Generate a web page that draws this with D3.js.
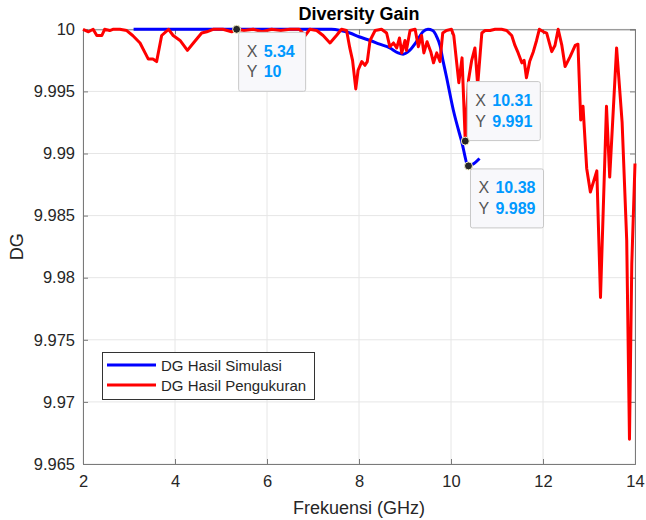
<!DOCTYPE html>
<html>
<head>
<meta charset="utf-8">
<script src="https://cdn.jsdelivr.net/npm/d3@7"></script>
<style>
  html, body { margin: 0; padding: 0; background: #fff; }
  svg { display: block; font-family: "Liberation Sans", Arial, Helvetica, sans-serif; }
</style>
</head>
<body>
<svg id="chart" width="646" height="520"></svg>
<script>
// ---- data ----
const simFreq = [3.10, 4.00, 5.00, 5.34, 6.00, 7.00, 7.40, 7.60, 7.80, 8.00, 8.24, 8.45, 8.67, 8.85, 8.96, 9.10, 9.25, 9.39, 9.50, 9.60, 9.69, 9.76, 9.83, 9.90, 10.05, 10.23, 10.38, 10.50, 10.62];
const simDG   = [10.0, 10.0, 10.0, 10.0, 10.0, 10.0, 10.0, 9.9999, 9.9997, 9.9994, 9.9991, 9.9988, 9.9985, 9.9981, 9.9980, 9.9983, 9.9990, 9.9998, 10.0, 9.9999, 9.9994, 9.9987, 9.9974, 9.9962, 9.9935, 9.9910, 9.9890, 9.9892, 9.9896];

const measFreq = [2.00, 2.12, 2.22, 2.30, 2.41, 2.47, 2.58, 2.65, 2.80, 2.95, 3.08, 3.24, 3.35, 3.42, 3.52, 3.60, 3.71, 3.86, 3.96, 4.11,
  4.27, 4.40, 4.58, 4.69, 4.83, 5.04, 5.23, 5.34, 5.50, 5.70, 5.90, 6.10, 6.30, 6.50, 6.70, 6.83, 6.93, 7.08, 7.22, 7.37,
  7.51, 7.62, 7.73, 7.80, 7.86, 7.93, 7.98, 8.06, 8.13, 8.18, 8.24, 8.35, 8.49, 8.60, 8.67, 8.75, 8.82, 8.88, 8.93, 9.00,
  9.03, 9.11, 9.22, 9.29, 9.36, 9.41, 9.48, 9.56, 9.62, 9.69, 9.76, 9.82, 9.90, 10.01, 10.06, 10.17, 10.24, 10.31, 10.38, 10.45,
  10.52, 10.58, 10.67, 10.74, 10.85, 10.96, 11.10, 11.21, 11.32, 11.39, 11.46, 11.54, 11.59, 11.64, 11.71, 11.79, 11.86, 11.92, 12.01, 12.08,
  12.19, 12.26, 12.33, 12.41, 12.48, 12.59, 12.70, 12.76, 12.82, 12.87, 12.95, 13.03, 13.17, 13.25, 13.38, 13.45, 13.60, 13.72, 13.82, 13.88,
  13.93, 14.00];
const measDG = [10.0000, 9.9998, 10.0000, 9.9995, 9.9995, 10.0000, 9.9999, 10.0000, 10.0000, 9.9999, 9.9995, 9.9989, 9.9981, 9.9976, 9.9976, 9.9974, 9.9995, 10.0000, 9.9995, 9.9991,
  9.9983, 9.9989, 9.9997, 9.9998, 10.0000, 10.0000, 9.9998, 10.0000, 9.9999, 10.0000, 9.9998, 10.0000, 9.9999, 10.0000, 10.0000, 9.9995, 10.0000, 9.9999, 9.9995, 9.9989,
  9.9995, 10.0000, 9.9999, 9.9985, 9.9975, 9.9952, 9.9967, 9.9974, 9.9971, 9.9974, 9.9991, 9.9999, 10.0000, 9.9997, 9.9986, 9.9989, 9.9985, 9.9993, 9.9981, 9.9991,
  9.9983, 9.9999, 10.0000, 9.9986, 9.9995, 9.9981, 9.9990, 9.9982, 9.9973, 9.9981, 9.9974, 9.9997, 9.9999, 10.0000, 9.9995, 9.9957, 9.9977, 9.9910, 9.9959, 9.9975,
  9.9985, 9.9955, 9.9997, 9.9999, 9.9999, 10.0000, 10.0000, 9.9999, 9.9995, 9.9987, 9.9981, 9.9973, 9.9975, 9.9961, 9.9974, 9.9982, 9.9991, 10.0000, 9.9998, 9.9997,
  9.9982, 9.9987, 10.0000, 9.9987, 9.9970, 9.9978, 9.9987, 9.9988, 9.9927, 9.9938, 9.9888, 9.9869, 9.9886, 9.9784, 9.9938, 9.9881, 9.9985, 9.9925, 9.9830, 9.9670,
  9.9811, 9.9892];

const xTicks = [2, 4, 6, 8, 10, 12, 14];
const yTicks = [9.965, 9.97, 9.975, 9.98, 9.985, 9.99, 9.995, 10];
const yTickLabels = ["9.965", "9.97", "9.975", "9.98", "9.985", "9.99", "9.995", "10"];

const seriesNames = ["DG Hasil Simulasi", "DG Hasil Pengukuran"];
const seriesColors = ["#0000ff", "#ff0000"];

const tipX = [5.34, 10.31, 10.38];
const tipY = [10, 9.991, 9.989];
const tipXLabel = ["5.34", "10.31", "10.38"];
const tipYLabel = ["10", "9.991", "9.989"];
const tipPlace = ["below", "above", "below"];

// ---- layout ----
const svg = d3.select("#chart");
const L = 83, R = 635, T = 29.3, B = 464;

const x = d3.scaleLinear().domain([2, 14]).range([L, R]);
const y = d3.scaleLinear().domain([9.965, 10]).range([B, T]);

const textColor = "#262626";
const axisColor = "#7a7a7a";

// grid
const grid = svg.append("g");
grid.selectAll(".gx").data(xTicks).enter().append("line")
  .attr("x1", d => x(d)).attr("x2", d => x(d)).attr("y1", T).attr("y2", B)
  .attr("stroke", "#e6e6e6").attr("stroke-width", 1);
grid.selectAll(".gy").data(yTicks).enter().append("line")
  .attr("y1", d => y(d)).attr("y2", d => y(d)).attr("x1", L).attr("x2", R)
  .attr("stroke", "#e6e6e6").attr("stroke-width", 1);

// axes
const xAxis = d3.axisBottom(x).tickValues(xTicks).tickSize(-5).tickPadding(11).tickFormat(d3.format("d"));
const yAxis = d3.axisLeft(y).tickValues(yTicks).tickSize(-5).tickPadding(8).tickFormat((d, i) => yTickLabels[i]);
const xAxisTop = d3.axisTop(x).tickValues(xTicks).tickSize(-5).tickFormat("");
const yAxisRight = d3.axisRight(y).tickValues(yTicks).tickSize(-5).tickFormat("");

function styleAxis(g) {
  g.select(".domain").attr("stroke", axisColor).attr("stroke-width", 1);
  g.selectAll(".tick line").attr("stroke", axisColor);
  g.selectAll(".tick text").attr("fill", textColor).style("font-size", "16.5px")
    .style("font-family", '"Liberation Sans", Arial, sans-serif');
}
svg.append("g").attr("transform", `translate(0,${B})`).call(xAxis).call(styleAxis);
svg.append("g").attr("transform", `translate(${L},0)`).call(yAxis).call(styleAxis);
svg.append("g").attr("transform", `translate(0,${T})`).call(xAxisTop).call(styleAxis);
svg.append("g").attr("transform", `translate(${R},0)`).call(yAxisRight).call(styleAxis);

// lines
const simData = simFreq.map((f, i) => [f, simDG[i]]);
const measData = measFreq.map((f, i) => [f, measDG[i]]);

svg.append("path").datum(simData)
  .attr("fill", "none").attr("stroke", seriesColors[0]).attr("stroke-width", 3)
  .attr("stroke-linejoin", "round")
  .attr("d", d3.line().x(d => x(d[0])).y(d => y(d[1])).curve(d3.curveMonotoneX));

svg.append("path").datum(measData)
  .attr("fill", "none").attr("stroke", seriesColors[1]).attr("stroke-width", 3)
  .attr("stroke-linejoin", "round")
  .attr("d", d3.line().x(d => x(d[0])).y(d => y(d[1])));

// title & labels
svg.append("text").attr("x", (L + R) / 2).attr("y", 20).attr("text-anchor", "middle")
  .attr("fill", "#000").style("font-size", "18px").style("font-weight", "bold").text("Diversity Gain");
svg.append("text").attr("x", (L + R) / 2).attr("y", 514).attr("text-anchor", "middle")
  .attr("fill", textColor).style("font-size", "18px").text("Frekuensi (GHz)");
svg.append("text").attr("transform", `translate(23,${(T + B) / 2}) rotate(-90)`).attr("text-anchor", "middle")
  .attr("fill", textColor).style("font-size", "18px").text("DG");

// legend
const lg = svg.append("g").attr("transform", "translate(102,352)");
lg.append("rect").attr("x", 0.5).attr("y", 0.5).attr("width", 212).attr("height", 47)
  .attr("fill", "#fff").attr("stroke", "#333").attr("stroke-width", 1);
seriesNames.forEach((name, i) => {
  const yy = 13 + i * 20;
  lg.append("line").attr("x1", 5).attr("x2", 54).attr("y1", yy).attr("y2", yy)
    .attr("stroke", seriesColors[i]).attr("stroke-width", 3);
  lg.append("text").attr("x", 59).attr("y", yy + 5.5).attr("fill", textColor)
    .style("font-size", "15px").text(name);
});

// datatips
tipX.forEach((tx, i) => {
  const px = x(tx), py = y(tipY[i]);
  const g = svg.append("g");
  const t = g.append("text").style("font-size", "16px").style("font-weight", "bold").text(tipXLabel[i]);
  const tw = t.node().getComputedTextLength();
  t.remove();
  const bw = Math.max(tw + 33, 67), bh = 59;
  const bx = px + 1.5;
  const by = tipPlace[i] === "below" ? py + 2.5 : py - 1 - bh;
  g.append("rect").attr("x", bx + 0.5).attr("y", by + 0.5).attr("width", bw).attr("height", bh)
    .attr("rx", 2).attr("fill", "#f8f8fb").attr("stroke", "#c8c8c8").attr("stroke-width", 1);
  const rows = [["X", tipXLabel[i]], ["Y", tipYLabel[i]]];
  rows.forEach((r, j) => {
    const tt = g.append("text").attr("x", bx + 8.5).attr("y", by + 25 + j * 20.5).style("font-size", "16px");
    tt.append("tspan").attr("fill", "#555").text(r[0]);
    tt.append("tspan").attr("x", bx + 25.5).attr("fill", "#0099ff").style("font-weight", "bold").text(r[1]);
  });
  svg.append("circle").attr("cx", px).attr("cy", py).attr("r", 4)
    .attr("fill", "#262626").attr("stroke", "#f5f0c8").attr("stroke-width", 1);
});
</script>
</body>
</html>
